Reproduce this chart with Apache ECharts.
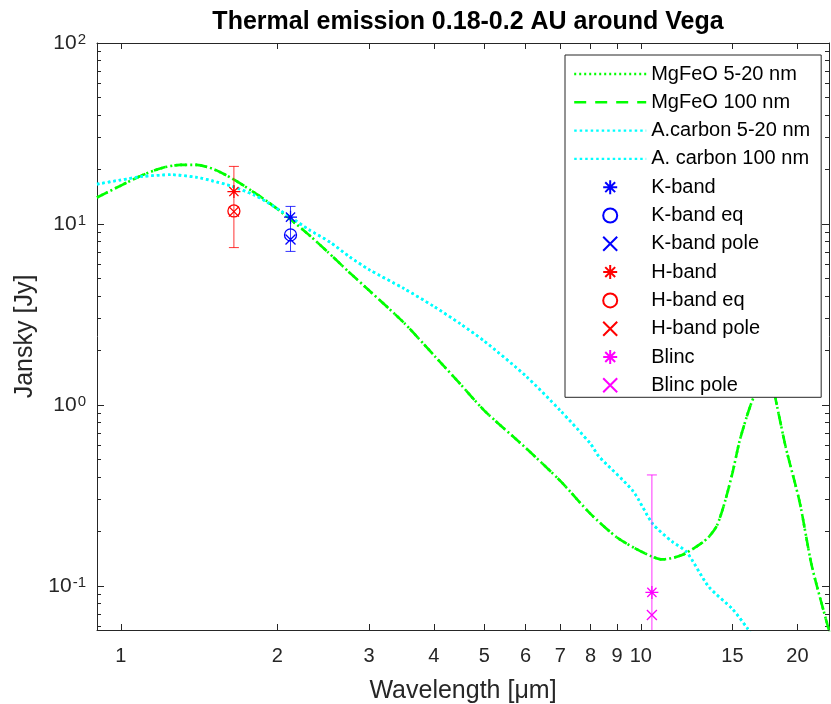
<!DOCTYPE html>
<html><head><meta charset="utf-8">
<script src="https://cdn.jsdelivr.net/npm/echarts@6/dist/echarts.min.js"></script>
<style>html,body{margin:0;padding:0;background:#fff}#c{width:831px;height:704px}</style>
</head><body><div id="c"></div>
<script>
// ---- data ----
const mgfeoWavelength = [0.9, 1.0, 1.1, 1.2, 1.3, 1.4, 1.5, 1.6, 1.7, 1.8, 1.9, 2.0, 2.12, 2.3, 2.5, 2.75, 3.0, 3.5, 4.0, 4.5, 5.0, 6.0, 7.0, 8.0, 9.0, 10.0, 11.0, 12.0, 13.0, 13.5, 14.0, 14.5, 15.0, 15.5, 16.2, 16.8, 17.4, 17.9, 18.2, 19.0, 20.2, 21.3, 22.7, 23.2];
const mgfeoSmall = [14.0, 16.3, 18.6, 20.4, 21.2, 21.2, 20.2, 18.5, 16.7, 15.0, 13.5, 12.1, 10.6, 8.7, 7.0, 5.4, 4.3, 2.85, 1.88, 1.3, 0.93, 0.58, 0.38, 0.25, 0.185, 0.155, 0.14, 0.148, 0.17, 0.186, 0.215, 0.29, 0.42, 0.64, 0.97, 1.25, 1.42, 1.3, 1.04, 0.58, 0.29, 0.13, 0.065, 0.052];
const mgfeoLarge = [14.0, 16.3, 18.6, 20.4, 21.2, 21.2, 20.2, 18.5, 16.7, 15.0, 13.5, 12.1, 10.6, 8.7, 7.0, 5.4, 4.3, 2.85, 1.88, 1.3, 0.93, 0.58, 0.38, 0.25, 0.185, 0.155, 0.14, 0.148, 0.17, 0.186, 0.215, 0.29, 0.42, 0.64, 0.97, 1.25, 1.42, 1.3, 1.04, 0.58, 0.29, 0.13, 0.065, 0.052];
const carbonWavelength = [0.9, 1.0, 1.1, 1.25, 1.4, 1.5, 1.63, 1.8, 1.91, 2.12, 2.3, 2.53, 2.75, 3.0, 3.5, 4.0, 4.5, 5.0, 6.0, 7.0, 8.0, 8.3, 9.65, 10.54, 11.5, 12.24, 13.5, 15.0, 16.0, 16.3];
const carbonSmall = [16.6, 17.5, 18.3, 18.7, 18.1, 17.3, 16.2, 14.5, 13.2, 10.9, 9.3, 7.9, 6.6, 5.6, 4.4, 3.5, 2.8, 2.25, 1.45, 0.93, 0.61, 0.52, 0.335, 0.22, 0.175, 0.154, 0.099, 0.0744, 0.0586, 0.054];
const carbonLarge = [16.6, 17.5, 18.3, 18.7, 18.1, 17.3, 16.2, 14.5, 13.2, 10.9, 9.3, 7.9, 6.6, 5.6, 4.4, 3.5, 2.8, 2.25, 1.45, 0.93, 0.61, 0.52, 0.335, 0.22, 0.175, 0.154, 0.099, 0.0744, 0.0586, 0.054];

const kBandWavelength = [2.12];
const kBandFlux = [10.9];
const kBandEqFlux = [8.7];
const kBandPoleFlux = [8.2];
const kBandErrLow = [7.05];
const kBandErrHigh = [12.5];

const hBandWavelength = [1.65];
const hBandFlux = [15.1];
const hBandEqFlux = [11.8];
const hBandPoleFlux = [11.7];
const hBandErrLow = [7.4];
const hBandErrHigh = [20.8];

const blincWavelength = [10.5];
const blincFlux = [0.092];
const blincPoleFlux = [0.069];
const blincErrLow = [0.01];
const blincErrHigh = [0.41];

const xTickValues = [1, 2, 3, 4, 5, 6, 7, 8, 9, 10, 15, 20];
const yMajorTicks = [0.1, 1, 10, 100];
const yMinorTicks = [0.06, 0.07, 0.08, 0.09, 0.2, 0.3, 0.4, 0.5, 0.6, 0.7, 0.8, 0.9, 2, 3, 4, 5, 6, 7, 8, 9, 20, 30, 40, 50, 60, 70, 80, 90];

const titleText = 'Thermal emission 0.18-0.2 AU around Vega';
const xName = 'Wavelength [μm]';
const yName = 'Jansky [Jy]';
const lineNames = ['MgFeO 5-20 nm', 'MgFeO 100 nm', 'A.carbon 5-20 nm', 'A. carbon 100 nm'];
const markNames = ['K-band', 'K-band eq', 'K-band pole', 'H-band', 'H-band eq', 'H-band pole', 'Blinc', 'Blinc pole'];

// ---- chart ----
const FONT = '"Liberation Sans", Arial, Helvetica, sans-serif';
const AX = '#262626';
const GREEN = '#00ff00', CYAN = '#00ffff', BLUE = '#0000ff', RED = '#ff0000', MAG = '#ff00ff';
const ASTER = 'path://M0,-10L0,10M-10,0L10,0M-7.07,-7.07L7.07,7.07M-7.07,7.07L7.07,-7.07';
const CIRC = 'path://M10,0A10,10,0,1,1,-10,0A10,10,0,1,1,10,0Z';
const CROSS = 'path://M-10,-10L10,10M-10,10L10,-10';

const pairs = (xs, ys) => xs.map((x, i) => [x, ys[i]]);
const XMIN = 0.9, XMAX = 23, YMIN = 0.057, YMAX = 100;

function lineSeries(name, xs, ys, color, dash) {
  return { name, type: 'line', data: pairs(xs, ys), symbol: 'none', smooth: 0.25,
    lineStyle: { color, width: 2.6, type: dash, cap: 'butt' }, itemStyle: { color }, z: 3 };
}
function markSeries(name, xs, ys, color, symbol, size) {
  return { name, type: 'scatter', data: pairs(xs, ys), symbol, symbolSize: size,
    itemStyle: { color: 'none', borderColor: color, borderWidth: 1.3, opacity: 1 }, z: 5 };
}
const errData = [
  { value: [hBandWavelength[0], hBandErrLow[0], hBandErrHigh[0]], itemStyle: { color: RED } },
  { value: [kBandWavelength[0], kBandErrLow[0], kBandErrHigh[0]], itemStyle: { color: BLUE } },
  { value: [blincWavelength[0], blincErrLow[0], blincErrHigh[0]], itemStyle: { color: MAG } }
];

function yLabel(v) {
  const e = Math.round(Math.log10(v));
  return '{b|10}{s|' + e + '}';
}

const chart = echarts.init(document.getElementById('c'), null, { renderer: 'canvas' });
const tickAxisBase = (pos, ticks, len, showLine) => ({
  type: 'log', logBase: 10, position: pos,
  axisLine: { show: showLine, onZero: false, lineStyle: { color: AX, width: 1 } },
  axisTick: { show: true, inside: true, length: len, customValues: ticks, lineStyle: { color: AX, width: 1 } },
  axisLabel: { show: false }, splitLine: { show: false }, minorTick: { show: false }
});

chart.setOption({
  animation: false,
  backgroundColor: '#fff',
  textStyle: { fontFamily: FONT },
  title: { text: titleText, left: 463, top: 5, textAlign: 'center',
    textStyle: { fontSize: 25, fontWeight: 'bold', color: '#000', fontFamily: FONT } },
  grid: { left: 97, right: 2, top: 43, bottom: 74, containLabel: false, outerBoundsMode: 'none' },
  xAxis: [
    Object.assign(tickAxisBase('bottom', xTickValues, 6, true), {
      min: XMIN, max: XMAX,
      axisLabel: { show: true, customValues: xTickValues, margin: 16, fontSize: 20, color: AX, fontFamily: FONT,
        formatter: v => String(Math.round(v * 1000) / 1000) },
      name: xName, nameLocation: 'middle', nameGap: 49,
      nameTextStyle: { fontSize: 25, color: AX, fontFamily: FONT }
    }),
    Object.assign(tickAxisBase('top', xTickValues, 6, true), { min: XMIN, max: XMAX })
  ],
  yAxis: [
    Object.assign(tickAxisBase('left', yMajorTicks, 7, true), {
      min: YMIN, max: YMAX,
      axisLabel: { show: true, customValues: yMajorTicks, margin: 11, color: AX, fontFamily: FONT,
        formatter: yLabel,
        rich: {
          b: { fontSize: 21, lineHeight: 21, color: AX, fontFamily: FONT, padding: [8, 0, 0, 0], verticalAlign: 'bottom' },
          s: { fontSize: 15, lineHeight: 15, color: AX, fontFamily: FONT, padding: [0, 0, 14, 1], verticalAlign: 'top' }
        } },
      name: yName, nameLocation: 'middle', nameGap: 54, nameRotate: 90,
      nameTextStyle: { fontSize: 25, color: AX, fontFamily: FONT }
    }),
    Object.assign(tickAxisBase('left', yMinorTicks, 4, false), { min: YMIN, max: YMAX }),
    Object.assign(tickAxisBase('right', yMajorTicks, 7, true), { min: YMIN, max: YMAX }),
    Object.assign(tickAxisBase('right', yMinorTicks, 4, false), { min: YMIN, max: YMAX })
  ],
  legend: {
    orient: 'vertical', left: 565, top: 55,
    backgroundColor: '#fff', borderColor: AX, borderWidth: 1,
    padding: [9, 11, 2, 8], itemWidth: 72, itemHeight: 14, itemGap: 8.3,
    textStyle: { fontSize: 20, color: '#000', fontFamily: FONT, lineHeight: 20 },
    lineStyle: { width: 2.4 },
    data: lineNames.map(n => ({ name: n, itemStyle: { opacity: 0 } })).concat(markNames)
  },
  series: [
    lineSeries(lineNames[0], mgfeoWavelength, mgfeoSmall, GREEN, [2, 3]),
    lineSeries(lineNames[1], mgfeoWavelength, mgfeoLarge, GREEN, [12, 9]),
    lineSeries(lineNames[2], carbonWavelength, carbonSmall, CYAN, [2.5, 3]),
    lineSeries(lineNames[3], carbonWavelength, carbonLarge, CYAN, [2.5, 3]),
    {
      type: 'custom', name: 'errorbars', data: errData, z: 4,
      encode: { x: 0, y: [1, 2] },
      renderItem: function (params, api) {
        const x = api.value(0), lo = api.value(1), hi = api.value(2);
        const t = api.coord([x, hi]), b = api.coord([x, lo]);
        const cs = params.coordSys;
        const yBottom = cs.y + cs.height;
        const by = Math.min(b[1], yBottom);
        const color = api.visual('color');
        const st = { stroke: color, lineWidth: 1, opacity: 0.8 };
        const ch = [
          { type: 'line', shape: { x1: t[0], y1: t[1], x2: t[0], y2: by }, style: st },
          { type: 'line', shape: { x1: t[0] - 5, y1: t[1], x2: t[0] + 5, y2: t[1] }, style: st }
        ];
        if (b[1] <= yBottom) ch.push({ type: 'line', shape: { x1: b[0] - 5, y1: b[1], x2: b[0] + 5, y2: b[1] }, style: st });
        return { type: 'group', children: ch };
      }
    },
    markSeries(markNames[0], kBandWavelength, kBandFlux, BLUE, ASTER, 13),
    markSeries(markNames[1], kBandWavelength, kBandEqFlux, BLUE, CIRC, 12),
    markSeries(markNames[2], kBandWavelength, kBandPoleFlux, BLUE, CROSS, 10),
    markSeries(markNames[3], hBandWavelength, hBandFlux, RED, ASTER, 13),
    markSeries(markNames[4], hBandWavelength, hBandEqFlux, RED, CIRC, 12),
    markSeries(markNames[5], hBandWavelength, hBandPoleFlux, RED, CROSS, 10),
    markSeries(markNames[6], blincWavelength, blincFlux, MAG, ASTER, 13),
    markSeries(markNames[7], blincWavelength, blincPoleFlux, MAG, CROSS, 10)
  ]
});
</script></body></html>
